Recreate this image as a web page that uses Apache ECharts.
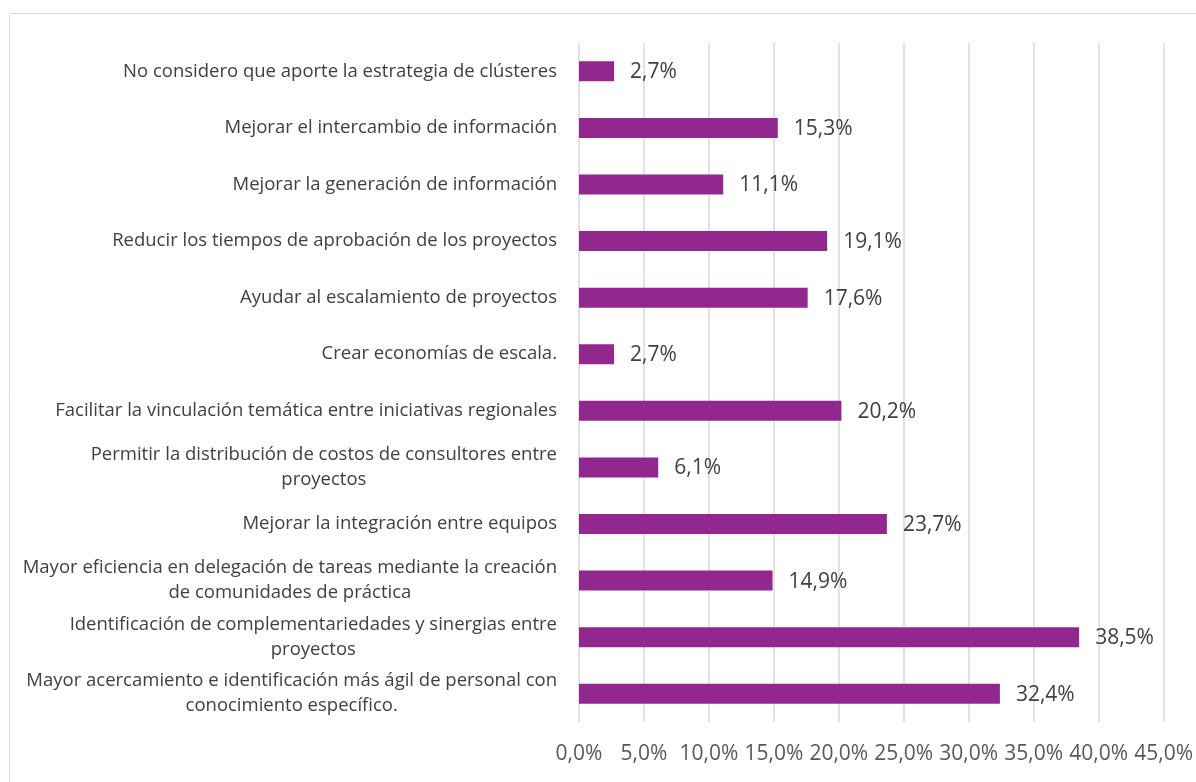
<!DOCTYPE html>
<html>
<head>
<meta charset="utf-8">
<script src="https://cdn.jsdelivr.net/npm/echarts@6/dist/echarts.min.js"></script>
<style>
html, body { margin: 0; padding: 0; background: #fff; }
#chart { width: 1196px; height: 782px; }
</style>
</head>
<body>
<div id="chart"></div>
<script>
// categories, top to bottom as in the picture
const categories = [
    'No considero que aporte la estrategia de clústeres',
    'Mejorar el intercambio de información',
    'Mejorar la generación de información',
    'Reducir los tiempos de aprobación de los proyectos',
    'Ayudar al escalamiento de proyectos',
    'Crear economías de escala.',
    'Facilitar la vinculación temática entre iniciativas regionales',
    'Permitir la distribución de costos de consultores entre\nproyectos',
    'Mejorar la integración entre equipos',
    'Mayor eficiencia en delegación de tareas mediante la creación\nde comunidades de práctica',
    'Identificación de complementariedades y sinergias entre\nproyectos',
    'Mayor acercamiento e identificación más ágil de personal con\nconocimiento específico.'
]
const values = [2.7, 15.3, 11.1, 19.1, 17.6, 2.7, 20.2, 6.1, 23.7, 14.9, 38.5, 32.4]
const axisMin = 0
const axisMax = 45
const axisStep = 5

const pct = v => v.toFixed(1).replace('.', ',') + '%'
const fontFamily = '"Open Sans", Lato, sans-serif'

let chart = echarts.init(document.getElementById('chart'))
let opt = {
    animation: false,
    graphic: [
        {
            type: 'rect',
            z: -10,
            shape: { x: 9.5, y: 13.5, width: 1200, height: 800 },
            style: { fill: 'none', stroke: '#d9d9d9', lineWidth: 1 }
        }
    ],
    grid: {
        left: 579,
        right: 29,
        top: 43,
        bottom: 60,
        containLabel: false
    },
    xAxis: {
        type: 'value',
        min: axisMin,
        max: axisMax,
        interval: axisStep,
        axisLine: { show: false },
        axisTick: { show: false },
        splitLine: {
            show: true,
            lineStyle: { color: '#d9d9d9', width: 1.5 }
        },
        axisLabel: {
            formatter: v => pct(v),
            color: '#595959',
            fontSize: 21,
            fontFamily: fontFamily,
            margin: 22
        }
    },
    yAxis: {
        type: 'category',
        inverse: true,
        data: categories,
        axisLine: { show: false },
        axisTick: { show: false },
        axisLabel: {
            margin: 22,
            formatter: v => '{a|' + v.split('\n').join('}\n{a|') + '}',
            rich: {
                a: {
                    align: 'center',
                    color: '#404040',
                    fontSize: 18.5,
                    lineHeight: 25,
                    fontFamily: fontFamily
                }
            }
        }
    },
    series: [
        {
            type: 'bar',
            data: values,
            barWidth: 20,
            itemStyle: { color: '#92278f' },
            label: {
                show: true,
                position: 'right',
                distance: 16,
                offset: [0, 1],
                formatter: p => pct(p.value),
                color: '#404040',
                fontSize: 21,
                fontFamily: fontFamily
            }
        }
    ]
}
chart.setOption(opt)
</script>
</body>
</html>
